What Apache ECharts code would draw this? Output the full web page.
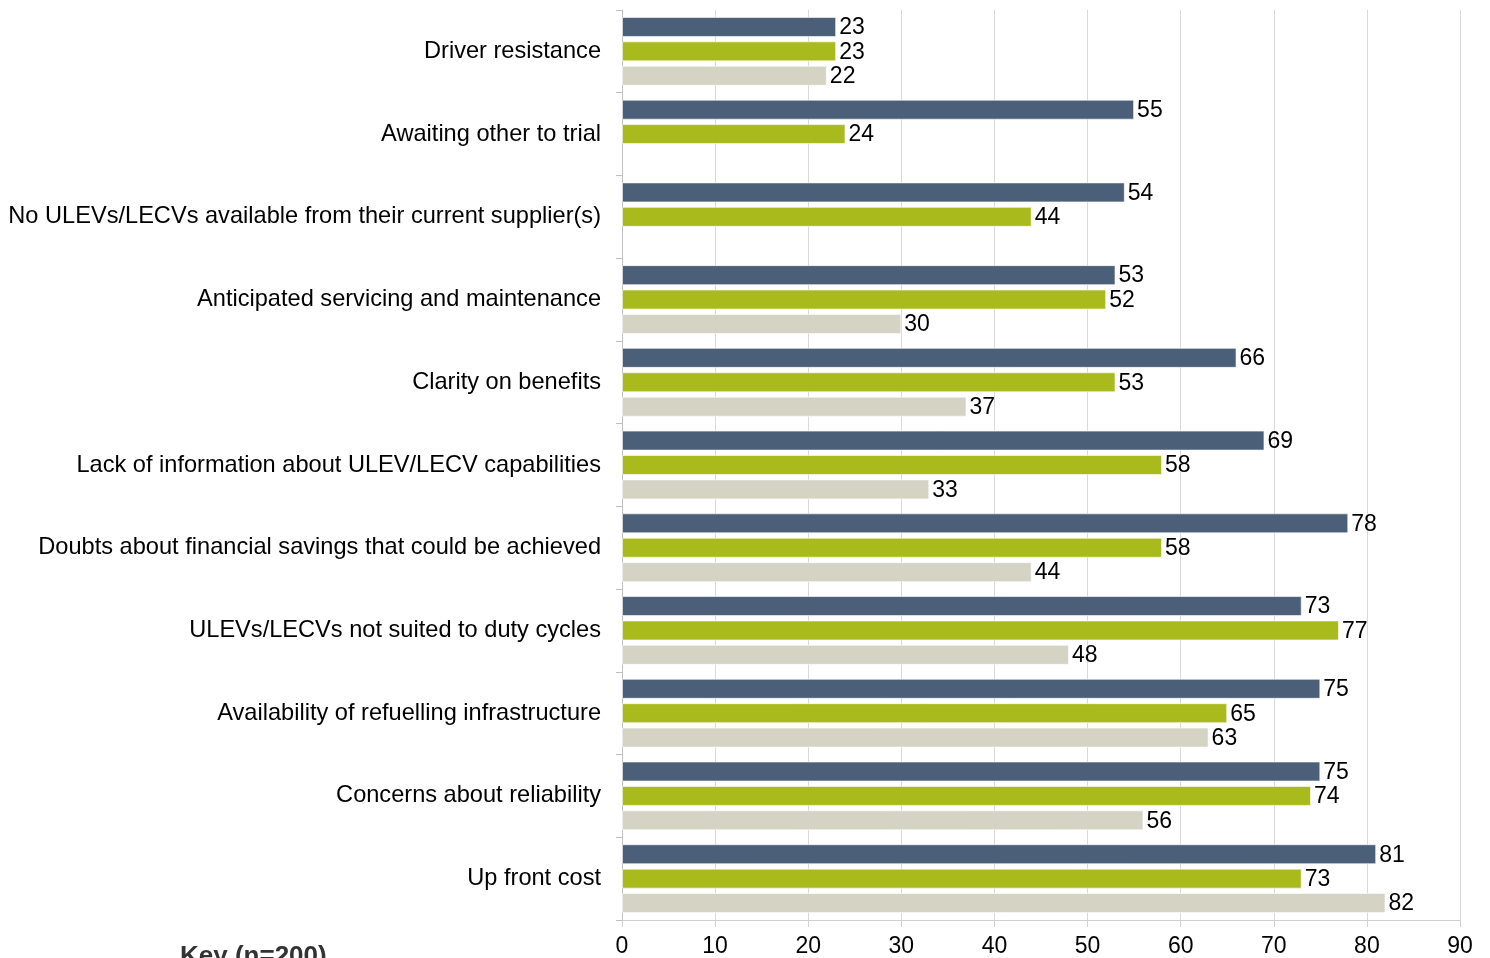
<!DOCTYPE html>
<html><head><meta charset="utf-8">
<script src="https://cdn.jsdelivr.net/npm/echarts@6/dist/echarts.min.js"></script>
<style>html,body{margin:0;padding:0;background:#fff}#c{width:1490px;height:958px}</style>
</head><body><div id="c"></div>
<script>
const categories = [
  "Driver resistance",
  "Awaiting other to trial",
  "No ULEVs/LECVs available from their current supplier(s)",
  "Anticipated servicing and maintenance",
  "Clarity on benefits",
  "Lack of information about ULEV/LECV capabilities",
  "Doubts about financial savings that could be achieved",
  "ULEVs/LECVs not suited to duty cycles",
  "Availability of refuelling infrastructure",
  "Concerns about reliability",
  "Up front cost"
];
const seriesA = [23, 55, 54, 53, 66, 69, 78, 73, 75, 75, 81];
const seriesB = [23, 24, 44, 52, 53, 58, 58, 77, 65, 74, 73];
const seriesC = [22, null, null, 30, 37, 33, 44, 48, 63, 56, 82];
const xTicks = [0, 10, 20, 30, 40, 50, 60, 70, 80, 90];

const font = "'Liberation Sans', Arial, sans-serif";
const chart = echarts.init(document.getElementById('c'));
function mk(name, data, color) {
  return {
    name, type: 'bar', data, barWidth: 20, barGap: '22%', barCategoryGap: '16%',
    itemStyle: { color, borderColor: 'rgba(255,255,255,0.6)', borderWidth: 1 },
    label: { show: true, position: 'right', distance: 3, color: '#000', fontSize: 23, fontFamily: font, offset: [0, 1] },
    animation: false
  };
}
chart.setOption({
  animation: false,
  grid: { left: 622, right: 30, top: 10, bottom: 36, containLabel: false },
  xAxis: {
    type: 'value', min: xTicks[0], max: xTicks[xTicks.length - 1], interval: 10,
    axisLine: { show: true, lineStyle: { color: '#d0d0d0', width: 1 } },
    axisTick: { show: true, length: 7, lineStyle: { color: '#d0d0d0' } },
    splitLine: { show: true, lineStyle: { color: '#d9d9d9', width: 1 } },
    axisLabel: { color: '#000', fontSize: 23, fontFamily: font, margin: 15 }
  },
  yAxis: {
    type: 'category', data: categories, inverse: true,
    axisLine: { show: true, lineStyle: { color: '#c0c0c0' } },
    axisTick: { show: true, length: 6, lineStyle: { color: '#c0c0c0' } },
    axisLabel: { color: '#000', fontSize: 23.6, fontFamily: font, margin: 21, padding: [2, 0, 0, 0] }
  },
  graphic: [{
    type: 'text', left: 180, top: 944,
    style: { text: 'Key (n=200)', font: "bold 26px 'Liberation Sans', Arial, sans-serif", fill: '#333' }
  }],
  series: [
    mk('Series 1', seriesA, '#4b5f79'),
    mk('Series 2', seriesB, '#a9bb1c'),
    mk('Series 3', seriesC, '#d5d3c3')
  ]
});
</script></body></html>
